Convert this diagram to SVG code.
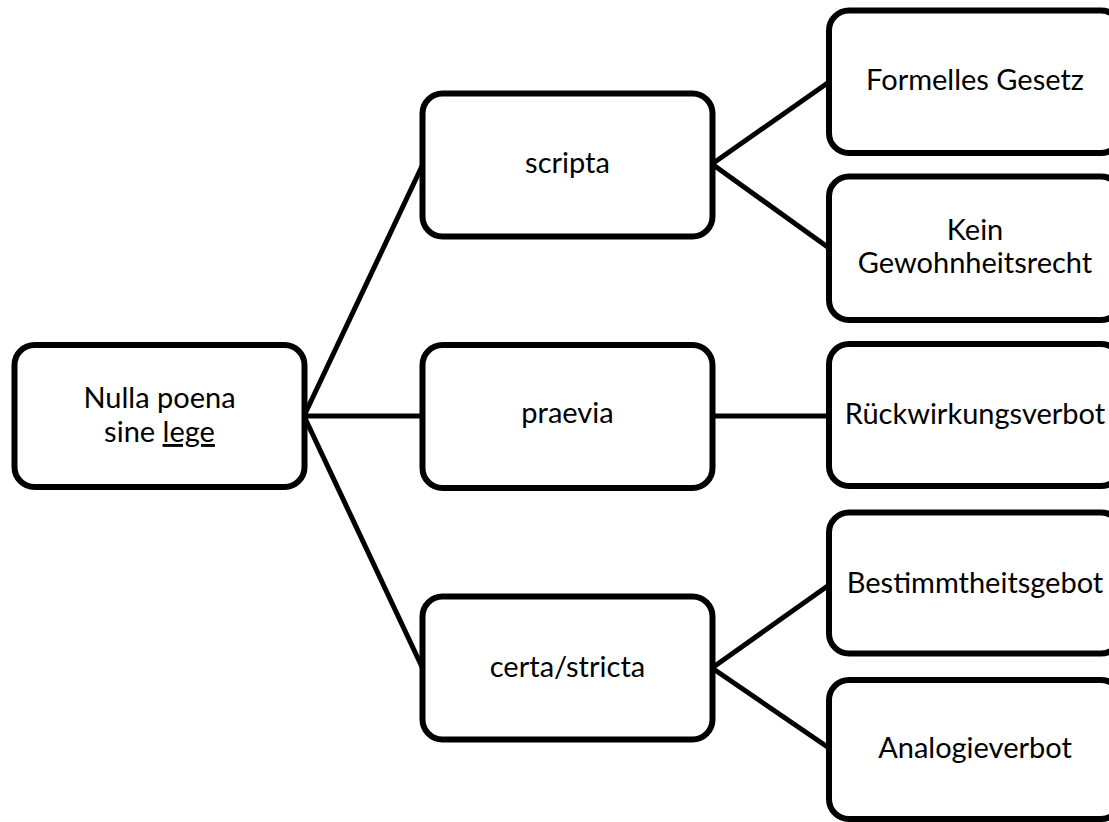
<svg xmlns="http://www.w3.org/2000/svg" width="1109" height="822" viewBox="0 0 1109 822">
<style>
.box{fill:#fff;stroke:#000;stroke-width:6}
.lbl{font-family:Lato,"Liberation Sans",sans-serif;font-size:29px;fill:#000;text-anchor:middle}
.con{stroke:#000;stroke-width:5;fill:none;stroke-linecap:butt}
</style>
<rect width="1109" height="822" fill="#fff"/>
<g id="connectors">
<line class="con" x1="304" y1="416" x2="422.5" y2="165"/>
<line class="con" x1="304" y1="416" x2="422.5" y2="416"/>
<line class="con" x1="304" y1="416" x2="422.5" y2="668"/>
<line class="con" x1="712" y1="164" x2="829" y2="82"/>
<line class="con" x1="712" y1="164" x2="829" y2="248"/>
<line class="con" x1="712" y1="416" x2="829" y2="416"/>
<line class="con" x1="712" y1="668" x2="829" y2="585"/>
<line class="con" x1="712" y1="668" x2="829" y2="748"/>
</g>
<g id="root">
<rect class="box" x="14.5" y="345" width="290" height="142" rx="20"/>
<text class="lbl" x="159.5" y="408">Nulla poena</text>
<text class="lbl" x="159.5" y="442">sine <tspan text-decoration="underline">lege</tspan></text>
</g>
<g id="scripta">
<rect class="box" x="422.5" y="93.5" width="290" height="143" rx="20"/>
<text class="lbl" x="567.5" y="173">scripta</text>
</g>
<g id="praevia">
<rect class="box" x="422.5" y="345" width="290" height="143" rx="20"/>
<text class="lbl" x="567.5" y="423">praevia</text>
</g>
<g id="certa">
<rect class="box" x="422.5" y="596.5" width="290" height="143" rx="20"/>
<text class="lbl" x="567.5" y="677">certa/stricta</text>
</g>
<g id="formelles">
<rect class="box" x="829" y="10.5" width="292" height="142.5" rx="20"/>
<text class="lbl" x="975" y="90">Formelles Gesetz</text>
</g>
<g id="kein">
<rect class="box" x="829" y="176.5" width="292" height="143.5" rx="20"/>
<text class="lbl" x="975" y="240">Kein</text>
<text class="lbl" x="975" y="273">Gewohnheitsrecht</text>
</g>
<g id="rueck">
<rect class="box" x="829" y="344" width="292" height="142" rx="20"/>
<text class="lbl" x="975" y="424">Rückwirkungsverbot</text>
</g>
<g id="bestimmt">
<rect class="box" x="829" y="512.5" width="292" height="141" rx="20"/>
<text class="lbl" x="975" y="593">Bestimmtheitsgebot</text>
</g>
<g id="analogie">
<rect class="box" x="829" y="680" width="292" height="139" rx="20"/>
<text class="lbl" x="975" y="758">Analogieverbot</text>
</g>
</svg>
